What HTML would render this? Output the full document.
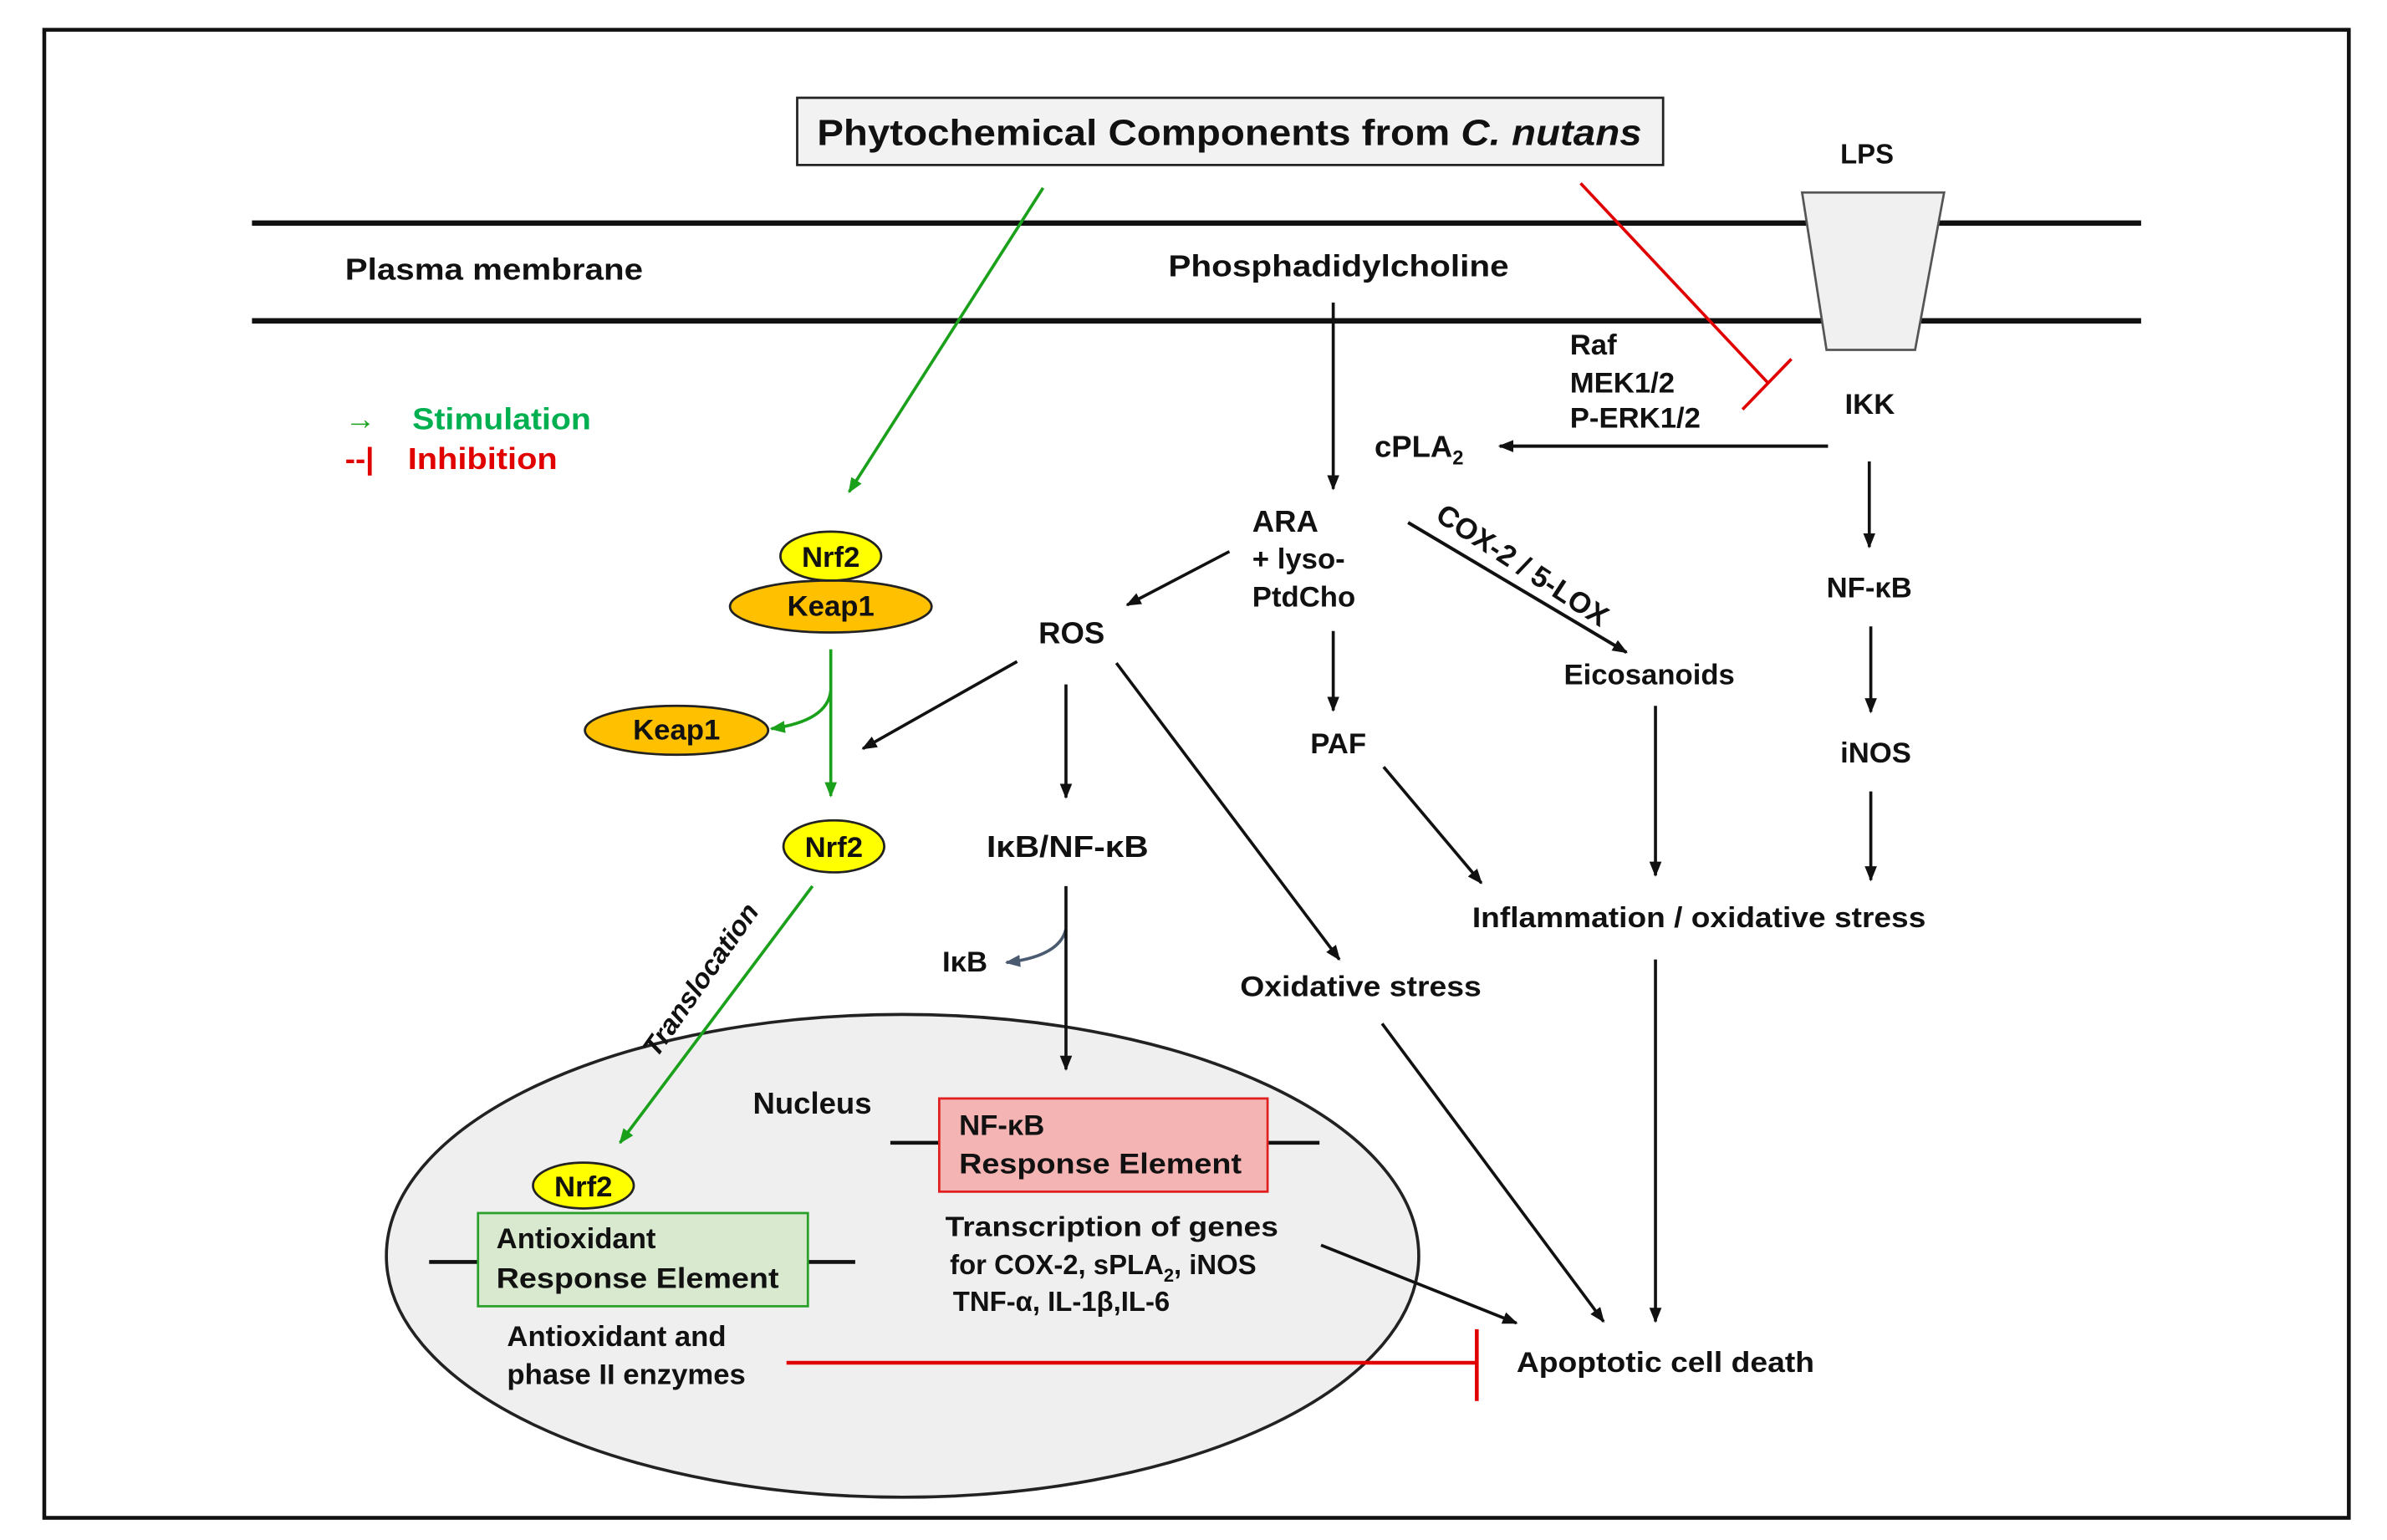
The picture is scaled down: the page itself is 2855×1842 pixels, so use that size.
<!DOCTYPE html>
<html><head><meta charset="utf-8"><style>
html,body{margin:0;padding:0;background:#fff;}
svg{display:block;}
text{font-family:"Liberation Sans",sans-serif;font-weight:bold;fill:#111;}
</style></head><body>
<svg width="2855" height="1842" viewBox="0 0 1563 1008" preserveAspectRatio="none" xmlns="http://www.w3.org/2000/svg">
<defs>
<marker id="ab" markerWidth="10" markerHeight="10" refX="9" refY="5" orient="auto" markerUnits="userSpaceOnUse"><path d="M0,1 L10,5 L0,9 Z" fill="#111"/></marker>
<marker id="ag" markerWidth="10" markerHeight="10" refX="9" refY="5" orient="auto" markerUnits="userSpaceOnUse"><path d="M0,1 L10,5 L0,9 Z" fill="#1aa01a"/></marker>
<marker id="ay" markerWidth="10" markerHeight="10" refX="9" refY="5" orient="auto" markerUnits="userSpaceOnUse"><path d="M0,1 L10,5 L0,9 Z" fill="#4a5a70"/></marker>
</defs>
<rect x="0" y="0" width="1563" height="1008" fill="#fff"/>
<rect x="29" y="19.5" width="1509" height="974" fill="none" stroke="#111" stroke-width="2.5"/>

<!-- membrane -->
<line x1="165" y1="146" x2="1402" y2="146" stroke="#111" stroke-width="3.5"/>
<line x1="165" y1="210" x2="1402" y2="210" stroke="#111" stroke-width="3.5"/>
<polygon points="1180,126 1273,126 1254,229 1196,229" fill="#f0f0f0" stroke="#555" stroke-width="1.5"/>
<text x="1205" y="107" font-size="18">LPS</text>

<!-- title -->
<rect x="522" y="64" width="567" height="44" fill="#f2f2f2" stroke="#222" stroke-width="1.5"/>
<text x="535" y="95" font-size="24" textLength="540" lengthAdjust="spacingAndGlyphs">Phytochemical Components from <tspan font-style="italic">C. nutans</tspan></text>

<text x="226" y="183" font-size="20" textLength="195" lengthAdjust="spacingAndGlyphs">Plasma membrane</text>
<text x="765" y="181" font-size="20" textLength="223" lengthAdjust="spacingAndGlyphs">Phosphadidylcholine</text>

<!-- legend -->
<text x="226" y="281" font-size="20" fill="#1aa01a" style="fill:#1aa01a">→</text>
<text x="270" y="281" font-size="20" style="fill:#00b050" textLength="117" lengthAdjust="spacingAndGlyphs">Stimulation</text>
<text x="226" y="307" font-size="20" style="fill:#e00000">--|</text>
<text x="267" y="307" font-size="20" style="fill:#e00000" textLength="98" lengthAdjust="spacingAndGlyphs">Inhibition</text>

<!-- green arrow from title -->
<line x1="683" y1="123" x2="556" y2="322" stroke="#1aa01a" stroke-width="2" marker-end="url(#ag)"/>
<!-- red inhibition -->
<line x1="1035" y1="120" x2="1158" y2="251" stroke="#e00000" stroke-width="2"/>
<line x1="1141" y1="268" x2="1173" y2="235" stroke="#e00000" stroke-width="2"/>

<text x="1028" y="232" font-size="19">Raf</text>
<text x="1028" y="257" font-size="19">MEK1/2</text>
<text x="1028" y="280" font-size="19">P-ERK1/2</text>
<text x="1208" y="271" font-size="19">IKK</text>
<line x1="1197" y1="292" x2="982" y2="292" stroke="#111" stroke-width="2.2" marker-end="url(#ab)"/>
<text x="900" y="299" font-size="20">cPLA<tspan font-size="13" dy="5">2</tspan></text>

<line x1="873" y1="198" x2="873" y2="320" stroke="#111" stroke-width="2" marker-end="url(#ab)"/>
<text x="820" y="348" font-size="20">ARA</text>
<text x="820" y="372" font-size="19">+ lyso-</text>
<text x="820" y="397" font-size="19">PtdCho</text>

<line x1="922" y1="342" x2="1065" y2="427" stroke="#111" stroke-width="2.2" marker-end="url(#ab)"/>
<text x="0" y="0" font-size="19" transform="translate(939,340) rotate(33)">COX-2 / 5-LOX</text>
<text x="1024" y="448" font-size="19">Eicosanoids</text>

<line x1="1224" y1="302" x2="1224" y2="358" stroke="#111" stroke-width="2" marker-end="url(#ab)"/>
<text x="1196" y="391" font-size="19">NF-κB</text>
<line x1="1225" y1="410" x2="1225" y2="466" stroke="#111" stroke-width="2" marker-end="url(#ab)"/>
<text x="1205" y="499" font-size="19">iNOS</text>
<line x1="1225" y1="518" x2="1225" y2="576" stroke="#111" stroke-width="2" marker-end="url(#ab)"/>

<text x="680" y="421" font-size="20">ROS</text>
<line x1="805" y1="361" x2="738" y2="396" stroke="#111" stroke-width="2" marker-end="url(#ab)"/>
<line x1="666" y1="433" x2="565" y2="490" stroke="#111" stroke-width="2" marker-end="url(#ab)"/>
<line x1="698" y1="448" x2="698" y2="522" stroke="#111" stroke-width="2" marker-end="url(#ab)"/>
<line x1="731" y1="434" x2="877" y2="628" stroke="#111" stroke-width="2" marker-end="url(#ab)"/>

<line x1="873" y1="413" x2="873" y2="465" stroke="#111" stroke-width="2" marker-end="url(#ab)"/>
<text x="858" y="493" font-size="19">PAF</text>
<line x1="906" y1="502" x2="970" y2="578" stroke="#111" stroke-width="2" marker-end="url(#ab)"/>
<line x1="1084" y1="462" x2="1084" y2="573" stroke="#111" stroke-width="2" marker-end="url(#ab)"/>
<text x="964" y="607" font-size="19" textLength="297" lengthAdjust="spacingAndGlyphs">Inflammation  / oxidative stress</text>
<text x="812" y="652" font-size="19" textLength="158" lengthAdjust="spacingAndGlyphs">Oxidative stress</text>

<text x="646" y="561" font-size="20" textLength="106" lengthAdjust="spacingAndGlyphs">IκB/NF-κB</text>
<text x="617" y="636" font-size="19">IκB</text>
<path d="M698,608 Q694,626 659,630" fill="none" stroke="#4a5a70" stroke-width="2" marker-end="url(#ay)"/>

<!-- nucleus -->
<ellipse cx="591" cy="822" rx="338" ry="158" fill="#efefef" stroke="#222" stroke-width="2"/>
<line x1="698" y1="580" x2="698" y2="700" stroke="#111" stroke-width="2" marker-end="url(#ab)"/>
<text x="493" y="729" font-size="20">Nucleus</text>

<line x1="583" y1="748" x2="615" y2="748" stroke="#111" stroke-width="2.5"/>
<line x1="830" y1="748" x2="864" y2="748" stroke="#111" stroke-width="2.5"/>
<rect x="615" y="719" width="215" height="61" fill="#f4b4b4" stroke="#e02020" stroke-width="1.5"/>
<text x="628" y="743" font-size="19">NF-κB</text>
<text x="628" y="768" font-size="19" textLength="185" lengthAdjust="spacingAndGlyphs">Response Element</text>

<text x="619" y="809" font-size="18" textLength="218" lengthAdjust="spacingAndGlyphs">Transcription of genes</text>
<text x="622" y="834" font-size="18">for COX-2, sPLA<tspan font-size="12" dy="5">2</tspan><tspan dy="-5">, iNOS</tspan></text>
<text x="624" y="858" font-size="18">TNF-α, IL-1β,IL-6</text>

<line x1="281" y1="826" x2="313" y2="826" stroke="#111" stroke-width="2.5"/>
<line x1="529" y1="826" x2="560" y2="826" stroke="#111" stroke-width="2.5"/>
<rect x="313" y="794" width="216" height="61" fill="#d9e9cf" stroke="#2aa02a" stroke-width="1.5"/>
<text x="325" y="817" font-size="19">Antioxidant</text>
<text x="325" y="843" font-size="19" textLength="185" lengthAdjust="spacingAndGlyphs">Response Element</text>
<ellipse cx="382" cy="776" rx="33" ry="15" fill="#ffff00" stroke="#222" stroke-width="1.5"/>
<text x="382" y="783" font-size="19" text-anchor="middle">Nrf2</text>

<text x="332" y="881" font-size="19">Antioxidant and</text>
<text x="332" y="906" font-size="19">phase II enzymes</text>
<line x1="515" y1="892" x2="967" y2="892" stroke="#e00000" stroke-width="2.5"/>
<line x1="967" y1="870" x2="967" y2="917" stroke="#e00000" stroke-width="2.5"/>
<text x="993" y="898" font-size="19" textLength="195" lengthAdjust="spacingAndGlyphs">Apoptotic cell death</text>

<line x1="865" y1="815" x2="993" y2="866" stroke="#111" stroke-width="2" marker-end="url(#ab)"/>
<line x1="905" y1="670" x2="1050" y2="865" stroke="#111" stroke-width="2" marker-end="url(#ab)"/>
<line x1="1084" y1="628" x2="1084" y2="865" stroke="#111" stroke-width="2" marker-end="url(#ab)"/>

<!-- Nrf2/Keap1 -->
<ellipse cx="544" cy="397" rx="66" ry="17" fill="#ffc000" stroke="#222" stroke-width="1.5"/>
<text x="544" y="403" font-size="19" text-anchor="middle">Keap1</text>
<ellipse cx="544" cy="364" rx="33" ry="16" fill="#ffff00" stroke="#222" stroke-width="1.5"/>
<text x="544" y="371" font-size="19" text-anchor="middle">Nrf2</text>
<line x1="544" y1="425" x2="544" y2="521" stroke="#1aa01a" stroke-width="2" marker-end="url(#ag)"/>
<path d="M544,452 Q542,472 505,477" fill="none" stroke="#1aa01a" stroke-width="2" marker-end="url(#ag)"/>
<ellipse cx="443" cy="478" rx="60" ry="16" fill="#ffc000" stroke="#222" stroke-width="1.5"/>
<text x="443" y="484" font-size="19" text-anchor="middle">Keap1</text>
<ellipse cx="546" cy="554" rx="33" ry="17" fill="#ffff00" stroke="#222" stroke-width="1.5"/>
<text x="546" y="561" font-size="19" text-anchor="middle">Nrf2</text>
<line x1="532" y1="580" x2="406" y2="748" stroke="#1aa01a" stroke-width="2" marker-end="url(#ag)"/>
<text x="0" y="0" font-size="18" font-style="italic" transform="translate(430,693) rotate(-55)">Translocation</text>
</svg>
</body></html>
